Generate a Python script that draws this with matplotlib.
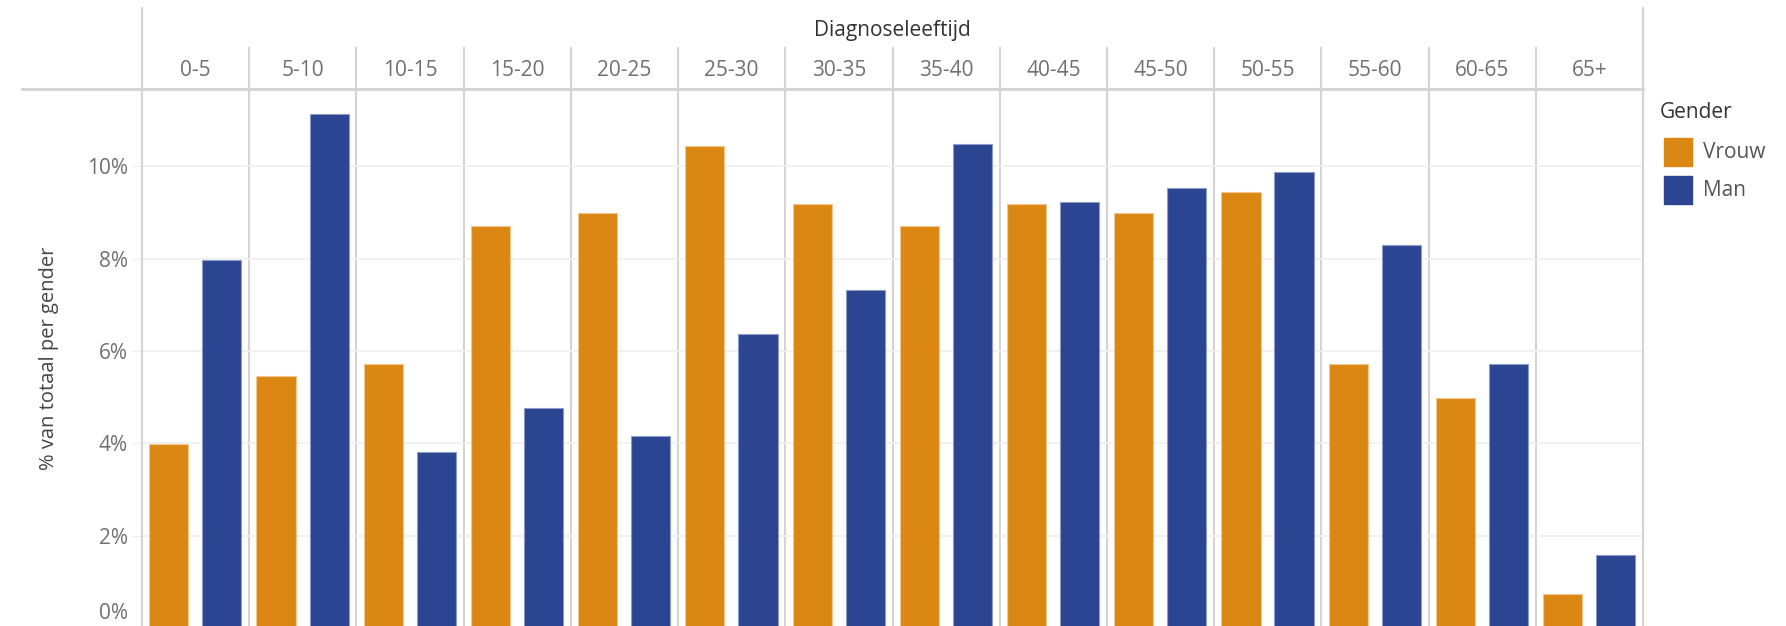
import numpy as np
import matplotlib.pyplot as plt
import matplotlib.transforms as mtransforms

plt.rcParams['font.family'] = ['Open Sans', 'DejaVu Sans']

leeftijd = ["0-5", "5-10", "10-15", "15-20", "20-25", "25-30", "30-35",
            "35-40", "40-45", "45-50", "50-55", "55-60", "60-65", "65+"]
vrouw = [3.98, 5.46, 5.71, 8.71, 8.98, 10.44, 9.18, 8.71, 9.18, 8.98, 9.45, 5.71, 4.97, 0.73]
man = [7.97, 11.13, 3.81, 4.77, 4.15, 6.37, 7.31, 10.49, 9.23, 9.53, 9.87, 8.29, 5.71, 1.59]
yticks = [0, 2, 4, 6, 8, 10]

c_vrouw = "#db8713"
c_man = "#2c4592"
grid_c = "#d4d4d4"

fig = plt.figure(figsize=(17.86, 6.26), dpi=100)
ax = fig.add_axes([142 / 1786, -2 / 626, 1501 / 1786, 539 / 626])

x = np.arange(len(leeftijd))
ax.bar(x + 0.25, vrouw, width=0.365, color=c_vrouw, edgecolor="#f0c78e", linewidth=0.8, zorder=3)
ax.bar(x + 0.745, man, width=0.365, color=c_man, edgecolor="#8d9bc8", linewidth=0.8, zorder=3)

ax.set_xlim(0, len(leeftijd))
ax.set_ylim(0, 11.67)
ax.set_xticks([])
ax.set_yticks(yticks)
ax.set_yticklabels([f"{t}%" for t in yticks])
ax.tick_params(axis="y", length=7, color="#ececec", labelcolor="#707070", labelsize=15, pad=3)
ax.grid(axis="y", color="#efefef", linewidth=1.2, zorder=0)

# 0% label pushed up into view
lbl0 = ax.get_yticklabels()[0]
lbl0.set_transform(lbl0.get_transform() + mtransforms.ScaledTranslation(0, 0.17, fig.dpi_scale_trans))

ax.spines["bottom"].set_visible(False)
for s in ["left", "right", "top"]:
    ax.spines[s].set_color(grid_c)
    ax.spines[s].set_linewidth(1.5)

ax.set_ylabel("% van totaal per gender", fontsize=14.5, color="#444444", labelpad=20)

# header with column dividers
tr = ax.get_xaxis_transform()
for i in range(1, len(leeftijd)):
    ax.plot([i, i], [0, 1.0758], transform=tr, color=grid_c, lw=1.5, clip_on=False, zorder=1)
for i in [0, len(leeftijd)]:
    ax.plot([i, i], [0, 1.1497], transform=tr, color=grid_c, lw=1.5, clip_on=False, zorder=1)
for i, lab in enumerate(leeftijd):
    ax.text(i + 0.5, 1.035, lab, transform=tr, ha="center", va="center",
            fontsize=15, color="#707070")
ax.text(len(leeftijd) / 2, 1.109, "Diagnoseleeftijd", transform=tr, ha="center",
        va="center", fontsize=15, color="#333333")
ax.plot([-0.08, 1], [1, 1], transform=ax.transAxes, color=grid_c, lw=2, clip_on=False)

# legend
fig.text(1660 / 1786, 1 - 113 / 626, "Gender", fontsize=15, color="#333333", va="center")
for k, (lab, col) in enumerate([("Vrouw", c_vrouw), ("Man", c_man)]):
    yc = 152 + 38 * k
    fig.patches.append(plt.Rectangle((1664 / 1786, 1 - (yc + 14) / 626), 28 / 1786, 28 / 626,
                                     transform=fig.transFigure, color=col, figure=fig))
    fig.text(1703 / 1786, 1 - yc / 626, lab, fontsize=15, color="#555555", va="center")

fig.savefig("out.png", dpi=100)
